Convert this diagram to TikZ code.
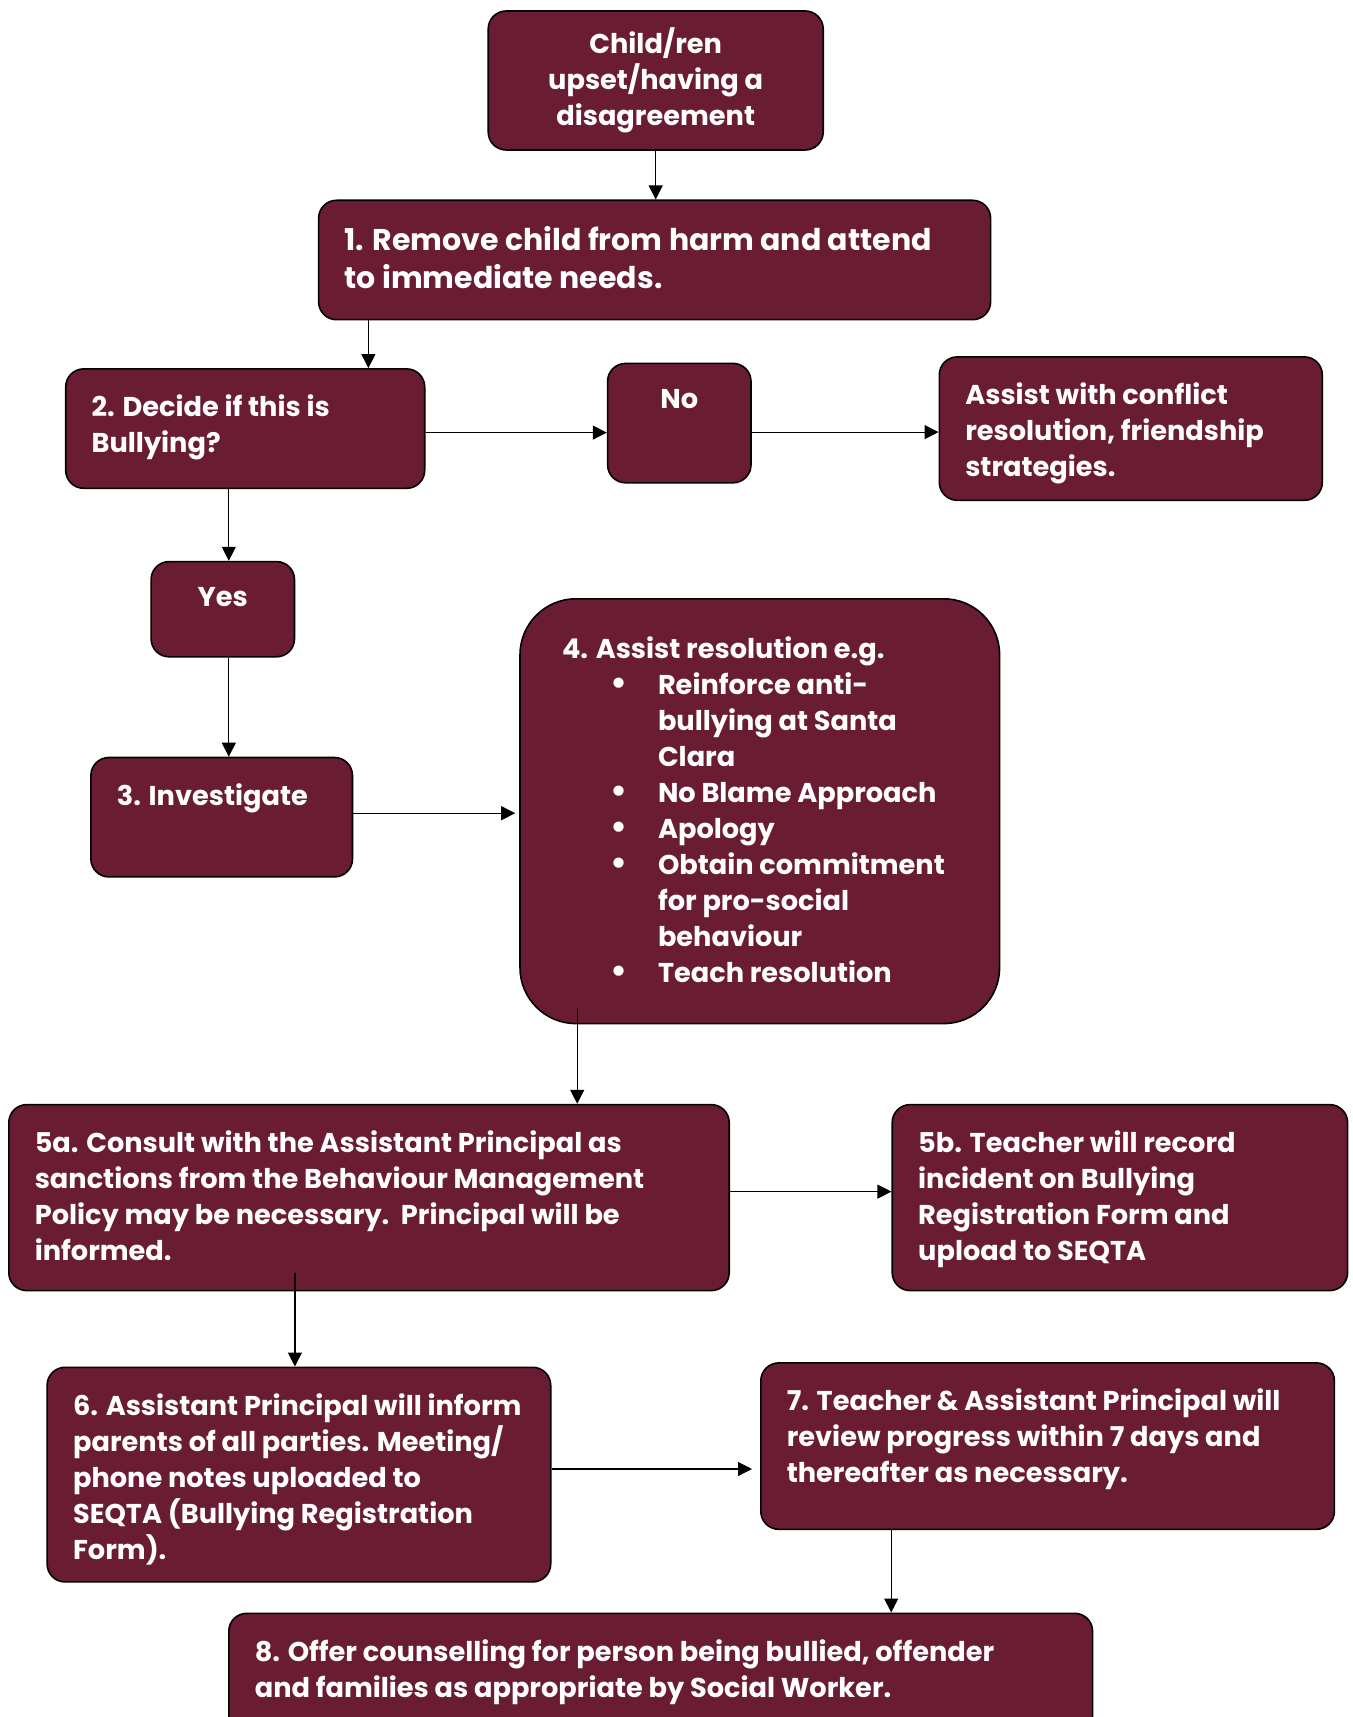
\documentclass[tikz,border=0pt]{standalone}
\usepackage{fontspec}
\setmainfont{Poppins}
\usetikzlibrary{arrows.meta}
\definecolor{maroon}{HTML}{6A1C32}
\newcommand{\boxtxt}[3]{\parbox[c][\dimexpr#2-26pt\relax][t]{\dimexpr#1-26pt\relax}{\raggedright#3}}
\newcommand{\blt}{\makebox[24pt][l]{\fontsize{17}{18}\selectfont\textbullet}}
\begin{document}
\begin{tikzpicture}[>={Triangle[length=7pt,width=7pt]},line join=round,x=.5pt,y=-.5pt,
	font=\bfseries\fontsize{13.6}{18}\selectfont,
	bx/.style={draw=black,line width=.8pt,fill=maroon,text=white,rounded corners=9pt,inner sep=13pt},
	ar/.style={->,line width=.6pt}]
	\useasboundingbox (0,0) rectangle (1353,1717);
	\node[bx,align=center,minimum width=167.5pt,minimum height=69.5pt,inner sep=0pt] (C) at (655.7,80.5) {Child/ren\\upset/having a\\disagreement};
	\node[bx,font=\bfseries\fontsize{15}{19}\selectfont] (R) at (654.6,260) {\boxtxt{336pt}{59.7pt}{1. Remove child from harm and attend\\to immediate needs.}};
	\node[bx] (D) at (245.2,428.6) {\boxtxt{179.5pt}{59.7pt}{2. Decide if this is\\Bullying?}};
	\node[bx] (N) at (679.3,423.1) {\boxtxt{71.7pt}{59.7pt}{\centering No}};
	\node[bx] (A) at (1130.8,428.6) {\boxtxt{191.5pt}{71.7pt}{Assist with conflict\\resolution, friendship\\strategies.}};
	\node[bx] (Y) at (222.8,609.2) {\boxtxt{71.7pt}{47.6pt}{\centering Yes}};
	\node[bx] (I) at (221.7,817.2) {\boxtxt{130.8pt}{59.7pt}{3. Investigate}};
	% big rounded box with the list
	\node[bx,rounded corners=28pt] (S) at (759.8,811.2) {\boxtxt{239.8pt}{212.4pt}{\vspace*{6pt}\hspace*{8pt}4. Assist resolution e.g.\\
		\hspace*{32pt}\blt Reinforce anti-\\
		\hspace*{56pt}bullying at Santa\\
		\hspace*{56pt}Clara\\
		\hspace*{32pt}\blt No Blame Approach\\
		\hspace*{32pt}\blt Apology\\
		\hspace*{32pt}\blt Obtain commitment\\
		\hspace*{56pt}for pro-social\\
		\hspace*{56pt}behaviour\\
		\hspace*{32pt}\blt Teach resolution}};
	\node[bx] (P) at (369,1197.6) {\boxtxt{360.2pt}{93pt}{5a. Consult with the Assistant Principal as\\sanctions from the Behaviour Management\\Policy may be necessary.\ \ Principal will be\\informed.}};
	\node[bx] (T) at (1119.9,1197.6) {\boxtxt{227.7pt}{93pt}{5b. Teacher will record\\incident on Bullying\\Registration Form and\\upload to SEQTA}};
	\node[bx] (M) at (298.9,1474.6) {\boxtxt{251.8pt}{107.3pt}{6. Assistant Principal will inform\\parents of all parties. Meeting/\\phone notes uploaded to\\SEQTA (Bullying Registration\\Form).}};
	\node[bx] (V) at (1047.6,1446.1) {\boxtxt{286.8pt}{83.2pt}{7. Teacher \& Assistant Principal will\\review progress within 7 days and\\thereafter as necessary.}};
	\node[bx] (O) at (660.7,1693.3) {\boxtxt{431.9pt}{80pt}{8. Offer counselling for person being bullied, offender\\and families as appropriate by Social Worker.}};
	% connectors
	\draw[ar] (C.south) -- (C.south |- R.north);
	\draw[ar] ([xshift=61.6pt]D.north |- R.south) -- ([xshift=61.6pt]D.north);
	\draw[ar] ([yshift=-2pt]D.east) -- ([yshift=-2pt]D.east -| N.west);
	\draw[ar] ([yshift=-4.5pt]N.east) -- ([yshift=-4.5pt]N.east -| A.west);
	\draw[ar] ([xshift=3pt]Y.north |- D.south) -- ([xshift=3pt]Y.north);
	\draw[ar] ([xshift=3pt]Y.south) -- ([xshift=3pt]Y.south |- I.north);
	\draw[ar,shorten >=2pt] ([yshift=2pt]I.east) -- ([yshift=2pt]I.east -| S.west);
	\draw[ar] ([shift={(29pt,8pt)}]S.south west) -- ([xshift=29pt]S.south west |- P.north);
	\draw[ar] ([yshift=3pt]P.east) -- ([yshift=3pt]P.east -| T.west);
	\draw[ar] ([shift={(-2pt,9pt)}]M.north |- P.south) -- ([xshift=-2pt]M.north);
	\draw[ar,shorten >=4pt] ([yshift=2.8pt]M.east) -- ([yshift=2.8pt]M.east -| V.west);
	\draw[ar] ([xshift=65.6pt]V.south west) -- ([xshift=65.6pt]V.south west |- O.north);
\end{tikzpicture}
\end{document}
